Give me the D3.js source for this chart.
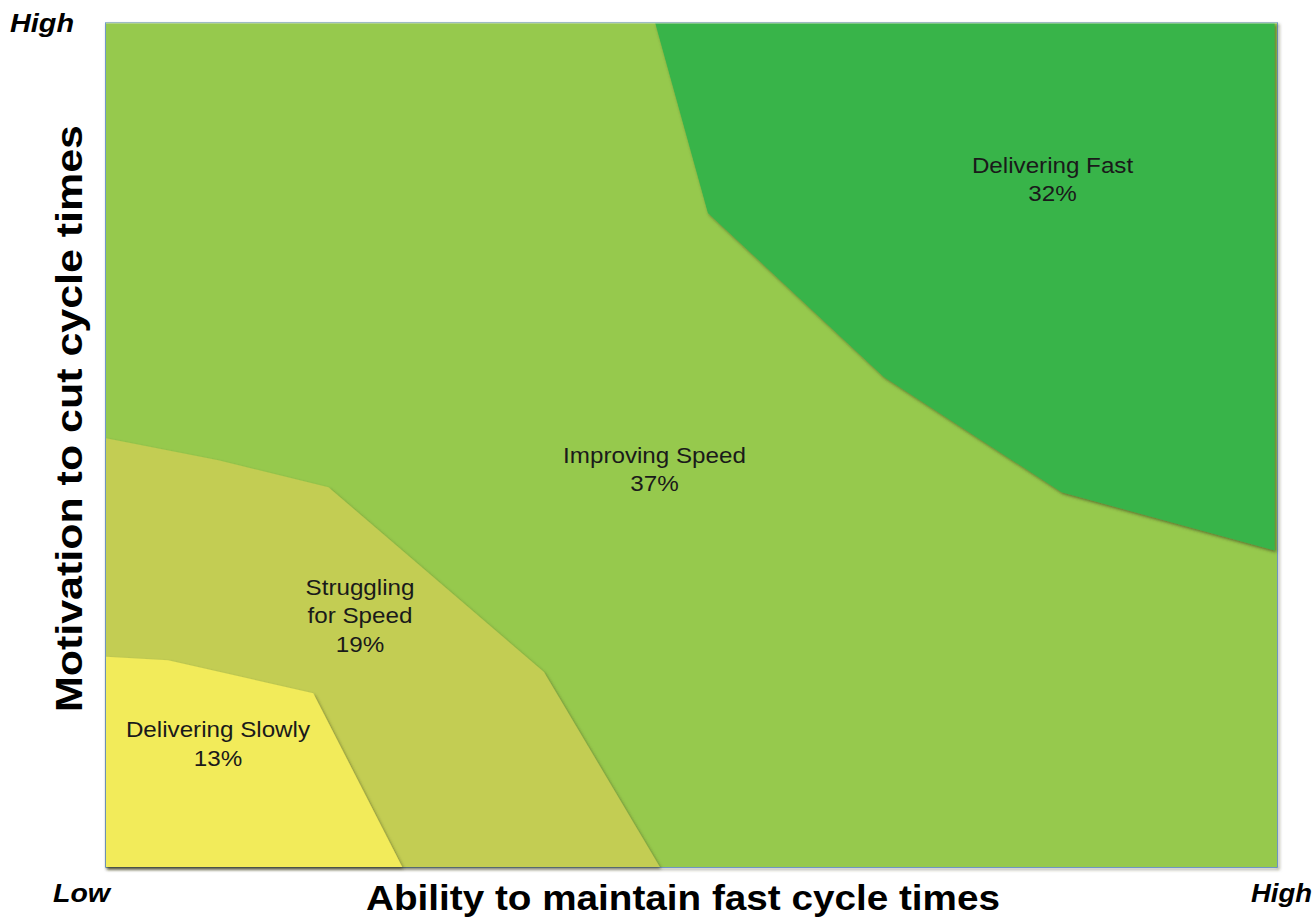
<!DOCTYPE html>
<html><head><meta charset="utf-8">
<script src="https://cdn.jsdelivr.net/npm/d3@7"></script>
<style>body{margin:0;background:#fff;}svg{display:block;font-family:"Liberation Sans",Arial,sans-serif;}</style>
</head><body><svg id="c" width="1315" height="917"></svg>
<script>
// Region names and shares
const regionNames = ["Improving Speed", "Delivering Fast", "Struggling for Speed", "Delivering Slowly"];
const regionShares = [37, 32, 19, 13];
// Polygon vertices in data space (0-100 ability, 0-100 motivation)
const improvingPts = [[0,0],[0,100],[100,100],[100,0]];
const fastPts = [[46.9,100],[51.4,77.5],[66.4,58.1],[81.6,44.4],[99.8,37.5],[99.8,100]];
const strugglingPts = [[0,50.8],[9.6,48.2],[19.0,45.0],[37.4,23.1],[47.3,0],[0,0]];
const slowlyPts = [[0,24.9],[5.3,24.5],[17.7,20.6],[25.3,0],[0,0]];
// Label anchor positions (data space, first baseline) and text lines
const labelLines = [["Improving Speed","37%"],["Delivering Fast","32%"],["Struggling","for Speed","19%"],["Delivering Slowly","13%"]];
const labelPos = [[46.84,47.87],[80.83,82.23],[21.69,32.23],[9.56,15.40]];
const regionColors = ["#96c94d","#38b44a","#c3cd52","#f2eb5a"];
const axisLabels = {x:"Ability to maintain fast cycle times", y:"Motivation to cut cycle times"};
const endLabels = ["Low","High","High"];

const svg = d3.select("#c");
const x = d3.scaleLinear().domain([0,100]).range([106,1277]);
const y = d3.scaleLinear().domain([0,100]).range([867,23]);

const defs = svg.append("defs");
const f = defs.append("filter").attr("id","sh").attr("x","-10%").attr("y","-10%").attr("width","130%").attr("height","130%");
f.append("feDropShadow").attr("dx",1.5).attr("dy",2).attr("stdDeviation",1.8).attr("flood-color","#3a3a1a").attr("flood-opacity",0.6);

// frame
svg.append("rect").attr("x",x(0)).attr("y",y(100)).attr("width",x(100)-x(0)).attr("height",y(0)-y(100))
  .attr("fill","none").attr("stroke","#4a7ebb").attr("stroke-width",1.5).attr("filter","url(#sh)");

const polys = [improvingPts, fastPts, strugglingPts, slowlyPts];
const line = d3.line().x(d=>x(d[0])).y(d=>y(d[1])).curve(d3.curveLinearClosed);
polys.forEach((p,i)=>{
  svg.append("path").attr("d",line(p)).attr("fill",regionColors[i])
    .attr("filter", i===0 ? null : "url(#sh)");
});
// top edge light line
svg.append("line").attr("x1",x(0)).attr("x2",x(100)).attr("y1",y(100)).attr("y2",y(100))
  .attr("stroke","#c9dcc0").attr("stroke-width",1.2);

// labels
labelLines.forEach((lines,i)=>{
  const t = svg.append("text").attr("text-anchor","middle").attr("font-size",22).attr("fill","#1a1a1a")
    .attr("transform",`translate(${x(labelPos[i][0])},${y(labelPos[i][1])}) scale(1.1,1)`);
  lines.forEach((l,j)=>{
    t.append("tspan").attr("x",0).attr("y",j*28.5).text(l);
  });
});

// axis titles
svg.append("text").attr("x",366).attr("y",910).attr("font-weight","bold")
  .attr("font-size",35).attr("fill","#000").attr("textLength",634).attr("lengthAdjust","spacingAndGlyphs").text(axisLabels.x);
svg.append("text").attr("transform","translate(82,712) rotate(-90)").attr("font-weight","bold")
  .attr("font-size",37).attr("fill","#000").attr("textLength",587).attr("lengthAdjust","spacingAndGlyphs").text(axisLabels.y);

// end labels
const endStyle = s=>s.attr("font-weight","bold").attr("font-style","italic").attr("font-size",26).attr("fill","#000").attr("lengthAdjust","spacingAndGlyphs");
endStyle(svg.append("text").attr("x",53).attr("y",902).attr("textLength",57).text(endLabels[0]));
endStyle(svg.append("text").attr("x",1251).attr("y",902).attr("textLength",61).text(endLabels[1]));
endStyle(svg.append("text").attr("x",10).attr("y",32).attr("textLength",64).text(endLabels[2]));
</script></body></html>
